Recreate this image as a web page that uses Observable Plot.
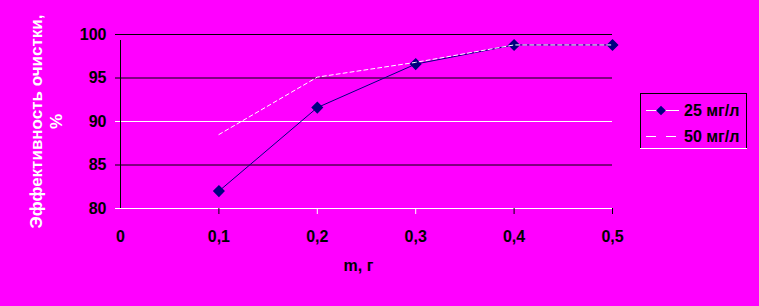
<!DOCTYPE html>
<html>
<head>
<meta charset="utf-8">
<script src="https://cdn.jsdelivr.net/npm/d3@7"></script>
<script src="https://cdn.jsdelivr.net/npm/@observablehq/plot@0.6"></script>
<style>
  html, body { margin: 0; padding: 0; background: #ff00ff; }
  #chart svg { display: block; }
</style>
</head>
<body>
<div id="chart"></div>
<script>
// Data
const masses = [0.1, 0.2, 0.3, 0.4, 0.5];
const eff25 = [82.0, 91.6, 96.6, 98.8, 98.8];
const eff50 = [88.5, 95.1, 96.8, 98.8, 98.8];
const seriesNames = ["25 мг/л", "50 мг/л"];
const yTicks = [80, 85, 90, 95, 100];
const xTicks = [0, 0.1, 0.2, 0.3, 0.4, 0.5];
const xTickLabels = ["0", "0,1", "0,2", "0,3", "0,4", "0,5"];
const yTitle = "Эффективность очистки,\n%";
const xTitle = "m, г";

const gridBlack = [85, 95, 100];
const gridWhite = [80, 90];
const xTickBlack = [0.1, 0.4, 0.5];
const xTickWhite = [0.2, 0.3];

const d25 = masses.map((m, i) => ({m, v: eff25[i]}));
const d50 = masses.map((m, i) => ({m, v: eff50[i]}));

const FONT = "'Liberation Sans', Arial, sans-serif";

const plot = Plot.plot({
  width: 759,
  height: 306,
  marginLeft: 120,
  marginRight: 147,
  marginTop: 34,
  marginBottom: 98,
  style: {background: "#ff00ff", fontFamily: FONT, fontSize: "16px", fontWeight: "bold", overflow: "visible"},
  x: {domain: [0, 0.5]},
  y: {domain: [80, 100]},
  marks: [
    Plot.ruleY(gridBlack, {stroke: "black", strokeWidth: 1, insetLeft: -5}),
    Plot.ruleY(gridWhite, {stroke: "white", strokeWidth: 1, insetLeft: -5}),
    Plot.ruleX([0], {y1: 80, y2: 100, stroke: "black", insetBottom: -6}),
    Plot.ruleX(xTickBlack, {y1: 80, y2: 80, stroke: "black", insetBottom: -6}),
    Plot.ruleX(xTickWhite, {y1: 80, y2: 80, stroke: "white", insetBottom: -6}),
    Plot.axisY({ticks: yTicks, tickSize: 0, tickPadding: 14, label: null, fill: "black", fontSize: 16, fontWeight: "bold"}),
    Plot.axisX({ticks: xTicks, tickSize: 0, tickPadding: 22, label: null, fill: "black", fontSize: 16, fontWeight: "bold",
      tickFormat: d => xTickLabels[xTicks.findIndex(t => Math.abs(t - d) < 1e-9)]}),
    Plot.line(d25, {x: "m", y: "v", stroke: "#000080", strokeWidth: 1}),
    Plot.dot(d25, {x: "m", y: "v", symbol: "diamond2", r: 4.5, fill: "#000080", stroke: "#000080"}),
    Plot.line(d50, {x: "m", y: "v", stroke: "white", strokeWidth: 1, strokeDasharray: "4,3"}),
    Plot.text([yTitle], {frameAnchor: "left", rotate: -90, dx: -75, fill: "white", fontSize: 17, fontWeight: "bold", lineHeight: 1.2, textAnchor: "middle"}),
    Plot.text([xTitle], {frameAnchor: "bottom", dy: 62, dx: -8, fill: "black", fontSize: 16, fontWeight: "bold"})
  ]
});

// Legend box drawn into the same SVG
const svg = d3.select(plot);
const lg = svg.append("g").attr("font-family", FONT).attr("font-size", 16).attr("font-weight", "bold")
  .attr("text-anchor", "start");
lg.append("rect").attr("x", 640.5).attr("y", 93.5).attr("width", 106).attr("height", 55)
  .attr("fill", "none").attr("stroke", "black");
lg.append("line").attr("x1", 640).attr("x2", 747).attr("y1", 148.5).attr("y2", 148.5).attr("stroke", "white");
const rows = [
  {y: 110, stroke: "white", dash: null, marker: true, name: seriesNames[0]},
  {y: 136, stroke: "white", dash: "10,10", marker: false, name: seriesNames[1]}
];
rows.forEach(r => {
  lg.append("line").attr("x1", 646).attr("x2", 679).attr("y1", r.y + 0.5).attr("y2", r.y + 0.5)
    .attr("stroke", r.stroke).attr("stroke-dasharray", r.dash);
  if (r.marker) {
    lg.append("path").attr("d", d3.symbol(d3.symbolDiamond2, 60)())
      .attr("transform", `translate(661,${r.y + 0.5})`).attr("fill", "#000080");
  }
  lg.append("text").attr("x", 684).attr("y", r.y).attr("dy", "0.35em").attr("fill", "black")
    .attr("text-anchor", "start").text(r.name);
});

document.getElementById("chart").appendChild(plot);
</script>
</body>
</html>
